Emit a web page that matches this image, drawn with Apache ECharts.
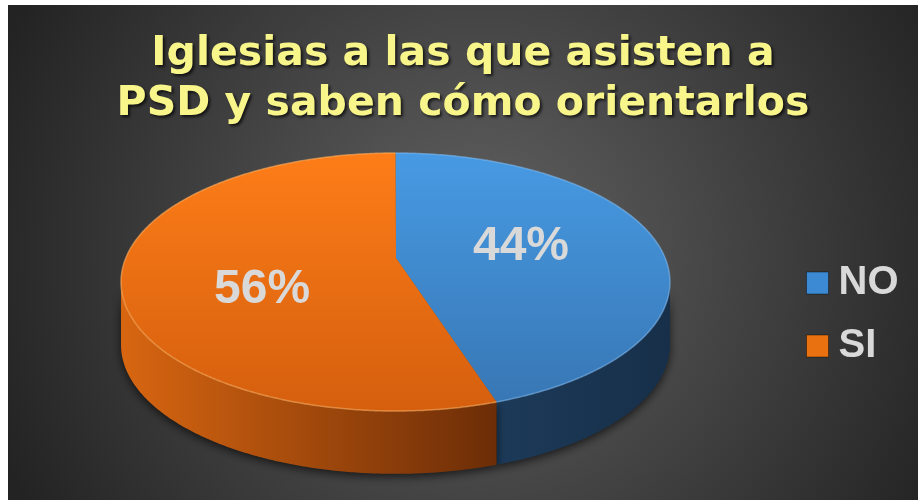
<!DOCTYPE html>
<html>
<head>
<meta charset="utf-8">
<script src="https://cdn.jsdelivr.net/npm/echarts@6/dist/echarts.min.js"></script>
<style>
  html, body { margin: 0; padding: 0; background: #ffffff; }
  #chart { position: absolute; left: 8px; top: 5px; width: 910px; height: 495px; }
</style>
</head>
<body>
<div id="chart"></div>
<script>
// data
var categories = ['NO', 'SI'];
var percents = [44, 56];
var titleLines = ['Iglesias a las que asisten a', 'PSD y saben cómo orientarlos'];

// looks
var topColors = [['#479ae3', '#3877b5'], ['#fd7d18', '#d55f0e']];
var sideColors = [['#1c3a59', '#172f49'], ['#d86611', '#6c2d07']];
var rimColors = ['rgba(130,190,245,0.55)', 'rgba(255,175,95,0.6)'];
var legendColors = ['#3d8ad4', '#e9710f'];
var labelNudge = [[0, 0], [-9, 21]];

var chart = echarts.init(document.getElementById('chart'));

var total = percents.reduce(function (a, b) { return a + b; }, 0);

var makeRender = function (idx) {
    return function (params, api) {
        var W = api.getWidth(), H = api.getHeight();
        var cx = W * 0.4258, cy = H * 0.5596;
        var rx = W * 0.3016, ry = H * 0.2606;
        var vx = W * 0.4264, vy = H * 0.5111;
        var depth = H * 0.127;

        var before = 0;
        for (var i = 0; i < idx; i++) before += percents[i];
        var a0 = before / total * Math.PI * 2;
        var a1 = a0 + api.value(0) / total * Math.PI * 2;

        var pt = function (t, dy) {
            return [cx + rx * Math.sin(t), cy - ry * Math.cos(t) + dy];
        };
        var arc = function (s, e, dy) {
            var pts = [];
            var n = Math.max(2, Math.ceil((e - s) / 0.01));
            for (var k = 0; k <= n; k++) pts.push(pt(s + (e - s) * k / n, dy));
            return pts;
        };

        var children = [];

        // front wall, only the part facing us
        var s = Math.max(a0, Math.PI / 2), e = Math.min(a1, Math.PI * 1.5);
        if (s < e) {
            var wall = arc(s, e, 0).concat(arc(s, e, depth).reverse());
            children.push({
                type: 'polygon',
                shape: { points: wall },
                z2: 1,
                style: {
                    fill: new echarts.graphic.LinearGradient(0, 0, 1, 0, [
                        { offset: 0, color: sideColors[idx][0] },
                        { offset: 1, color: sideColors[idx][1] }
                    ]),
                    shadowBlur: 10,
                    shadowColor: 'rgba(0,0,0,0.65)',
                    shadowOffsetY: 3
                }
            });
        }

        // top face
        var face = [[vx, vy]].concat(arc(a0, a1, 0));
        children.push({
            type: 'polygon',
            shape: { points: face },
            z2: 2,
            style: {
                fill: new echarts.graphic.LinearGradient(0, 0, 0, 1, [
                    { offset: 0, color: topColors[idx][0] },
                    { offset: 1, color: topColors[idx][1] }
                ])
            }
        });
        children.push({
            type: 'polyline',
            shape: { points: arc(a0, a1, 0) },
            z2: 3,
            style: { fill: null, stroke: rimColors[idx], lineWidth: 1.5 }
        });

        // value label
        var mid = (a0 + a1) / 2;
        var f = 0.4635;
        children.push({
            type: 'text',
            z2: 4,
            style: {
                text: api.value(0) + '%',
                x: vx + f * rx * Math.sin(mid) + labelNudge[idx][0],
                y: vy - f * ry * Math.cos(mid) + labelNudge[idx][1],
                align: 'center',
                verticalAlign: 'middle',
                font: 'bold 48px "Liberation Sans", Arial, sans-serif',
                fill: '#d9d9d9'
            }
        });

        return { type: 'group', children: children };
    };
};

var series = categories.map(function (name, idx) {
    return {
        name: name,
        type: 'custom',
        coordinateSystem: 'none',
        renderItem: makeRender(idx),
        itemStyle: { color: legendColors[idx] },
        data: [[percents[idx]]],
        silent: true
    };
});

var option = {
    animation: false,
    backgroundColor: {
        type: 'radial', x: 0.52, y: 0.5, r: 1.05,
        colorStops: [
            { offset: 0, color: '#626262' },
            { offset: 1, color: '#232323' }
        ]
    },
    title: {
        text: titleLines.join('\n'),
        left: 'center',
        top: 19,
        textStyle: {
            fontFamily: '"DejaVu Sans", sans-serif',
            fontWeight: 'bold',
            fontSize: 41,
            lineHeight: 50,
            color: '#f8f58b',
            textShadowColor: 'rgba(0,0,0,0.7)',
            textShadowBlur: 3,
            textShadowOffsetX: 2,
            textShadowOffsetY: 2
        }
    },
    legend: {
        orient: 'vertical',
        left: 793,
        top: 253,
        icon: 'rect',
        itemWidth: 22,
        itemHeight: 22,
        itemGap: 23,
        textStyle: {
            fontFamily: '"Liberation Sans", Arial, sans-serif',
            fontWeight: 'bold',
            fontSize: 40,
            lineHeight: 40,
            color: '#d9d9d9',
            padding: [0, 0, 0, 5]
        },
        data: categories.map(function (name, idx) {
            return {
                name: name,
                itemStyle: { color: legendColors[idx], borderColor: 'rgba(0,0,0,0.4)', borderWidth: 1 }
            };
        })
    },
    series: series
};

chart.setOption(option);
</script>
</body>
</html>
